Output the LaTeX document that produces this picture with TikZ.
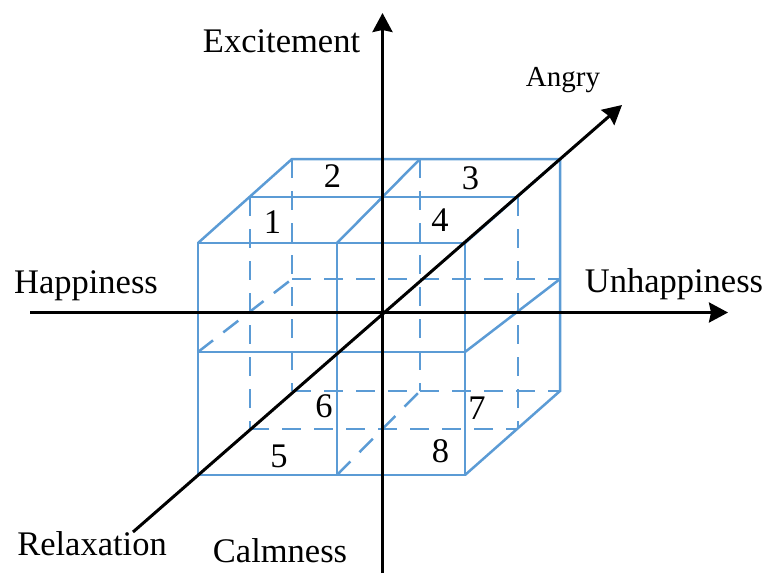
\documentclass[tikz,border=0pt]{standalone}
\usepackage{fontspec}
\setmainfont{Liberation Serif}
\usetikzlibrary{arrows.meta}
\definecolor{cubeblue}{RGB}{91,155,213}
\tikzset{
  edge/.style={draw=cubeblue,line width=2.5pt},
  hidden/.style={draw=cubeblue,line width=2.5pt,dash pattern=on 19pt off 13pt},
  axis/.style={draw=black,line width=3pt,-{Stealth[length=19pt,width=20pt,inset=2pt]}},
  lbl/.style={anchor=base,inner sep=0pt,font=\fontsize{34.5}{40}\selectfont},
  smalllbl/.style={anchor=base,inner sep=0pt,font=\fontsize{29}{34}\selectfont}
}
\begin{document}
\begin{tikzpicture}[x=1pt,y=-1pt]
\useasboundingbox (0,0) rectangle (767,573);
% front layer
\coordinate (Flt) at (198,243); \coordinate (Fmt) at (337,243); \coordinate (Frt) at (465,243);
\coordinate (Flm) at (198,352); \coordinate (Fmm) at (337,352); \coordinate (Frm) at (465,352);
\coordinate (Flb) at (198,475); \coordinate (Fmb) at (337,475); \coordinate (Frb) at (465,475);
% middle layer
\coordinate (Mlt) at (250,197); \coordinate (Mmt) at (383,197); \coordinate (Mrt) at (518,197);
\coordinate (Mlm) at (250,313); \coordinate (Mrm) at (518,313);
\coordinate (Mlb) at (250,429); \coordinate (Mmb) at (383,429); \coordinate (Mrb) at (518,429);
% back layer
\coordinate (Blt) at (292,159); \coordinate (Bmt) at (420,159); \coordinate (Brt) at (560,159);
\coordinate (Blm) at (292,279); \coordinate (Brm) at (560,279);
\coordinate (Blb) at (292,391); \coordinate (Bmb) at (420,391); \coordinate (Brb) at (560,391);
% hidden edges
\draw[hidden] (Mlt) -- (Mlb);
\draw[hidden] (Blt) -- (Blb);
\draw[hidden] (Bmt) -- (Bmb);
\draw[hidden] (Mrt) -- (Mrb);
\draw[hidden] (Blm) -- (Brm);
\draw[hidden] (Blb) -- (Brb);
\draw[hidden] (Mlb) -- (Mrb);
\draw[hidden] (Flm) -- (Blm);
\draw[hidden] (Fmb) -- (Bmb);
% visible edges
\draw[edge] (Flt) rectangle (Frb);
\draw[edge] (Fmt) -- (Fmb);
\draw[edge] (Flm) -- (Frm);
\draw[edge] (Flt) -- (Blt) -- (Brt) -- (Brb) -- (Frb);
\draw[edge] (Fmt) -- (Bmt);
\draw[edge] (Mlt) -- (Mrt);
\draw[edge] (Frt) -- (Brt);
\draw[edge] (Frm) -- (Brm);
% axes
\coordinate (hL) at (30,312.5); \coordinate (hR) at (728,312.5);
\coordinate (vB) at (382.5,573); \coordinate (vT) at (382.5,13);
\coordinate (dB) at (133,532); \coordinate (dT) at (622,105);
\draw[axis] (hL) -- (hR);
\draw[axis] (vB) -- (vT);
\draw[axis] (dB) -- (dT);
% labels
\node[lbl] (exc) at (281.5,52) {Excitement};
\node[lbl] (hap) at (86,293) {Happiness};
\node[lbl] (unh) at (674,292) {Unhappiness};
\node[smalllbl] (ang) at (563,86) {Angry};
\node[lbl] (rel) at (92,555) {Relaxation};
\node[lbl] (cal) at (280,562) {Calmness};
% region numbers
\node[lbl] (n1) at (272.5,233) {1};
\node[lbl] (n2) at (332.5,187) {2};
\node[lbl] (n3) at (470.5,189) {3};
\node[lbl] (n4) at (440,231) {4};
\node[lbl] (n5) at (279,467) {5};
\node[lbl] (n6) at (324,417) {6};
\node[lbl] (n7) at (477,419) {7};
\node[lbl] (n8) at (440.5,462) {8};
\end{tikzpicture}
\end{document}
